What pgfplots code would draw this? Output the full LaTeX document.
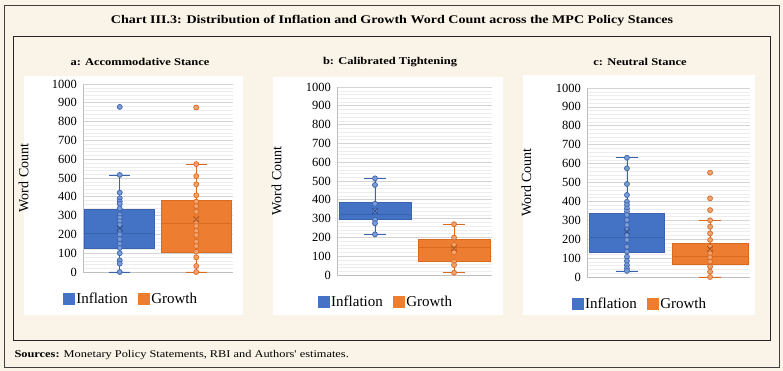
\documentclass[border=0pt]{standalone}
\usepackage{fontspec}
\setmainfont{Liberation Serif}
\newfontfamily\hdfont[FakeStretch=1.2]{Liberation Serif}
\usepackage{pgfplots}
\pgfplotsset{compat=1.18}
\usepgfplotslibrary{statistics}
\definecolor{bgc}{HTML}{FAF3E7}
\definecolor{inflc}{HTML}{4472C4}
\definecolor{inflD}{HTML}{3A63AD}
\definecolor{growc}{HTML}{ED7D31}
\definecolor{growD}{HTML}{D96A22}
\pgfplotsset{
  panel/.style={
    scale only axis, clip=false,
    xmin=0, xmax=2, ymin=0, ymax=1000,
    ytick={0,100,...,1000}, minor y tick num=4,
    xtick=\empty,
    ymajorgrids, yminorgrids,
    major grid style={draw=black!17, line width=0.6pt},
    minor grid style={draw=black!7, line width=0.4pt},
    axis lines*=left,
    axis line style={draw=black!25, line width=0.6pt},
    tick style={draw=none},
    /pgf/number format/assume math mode=true,
    /pgf/number format/1000 sep={},
    yticklabel style={font=\fontsize{12.5}{12.5}\selectfont, xshift=-2.5pt},
    ylabel={Word Count},
    ylabel style={font=\fontsize{14}{14}\selectfont},
    boxplot/draw direction=y,
    legend style={draw=none, fill=none, font=\fontsize{15}{15}\selectfont,
      legend columns=2, anchor=center,
      /tikz/every even column/.append style={column sep=8pt}},
  },
  ib/.style={boxplot prepared={draw position=0.49, box extend=0.93, whisker extend=0.28, #1},
    fill=inflc, draw=inflD, line width=0.8pt},
  gb/.style={boxplot prepared={draw position=1.51, box extend=0.93, whisker extend=0.28, #1},
    fill=growc, draw=growD, line width=0.8pt},
  ip/.style={only marks, mark=*, mark size=2.5pt, mark options={draw=inflD, fill=inflc!70!white, line width=0.7pt}},
  gp/.style={only marks, mark=*, mark size=2.5pt, mark options={draw=growD, fill=growc!70!white, line width=0.7pt}},
  im/.style={only marks, mark=x, mark size=4pt, mark options={draw=inflD!80!black, line width=0.9pt}},
  gm/.style={only marks, mark=x, mark size=4pt, mark options={draw=growD!80!black, line width=0.9pt}},
}
\newcommand{\legsq}[1]{\addlegendimage{legend image code/.code={\fill[#1] (0pt,-5.5pt) rectangle (11pt,5.5pt);}}}
\begin{document}
\begin{tikzpicture}
\fill[bgc] (0pt,0pt) rectangle (783pt,371pt);
\draw[black!75, line width=0.8pt] (4pt,4pt) rectangle (779pt,366pt);
\draw[black!85, line width=0.9pt] (13pt,31pt) rectangle (770pt,335pt);
\node[font=\hdfont\bfseries\fontsize{11.7}{12}\selectfont] at (392pt,350pt) {Chart III.3: Distribution of Inflation and Growth Word Count across the MPC Policy Stances};
\node[font=\hdfont\fontsize{10.3}{11}\selectfont, anchor=west] at (11pt,16pt) {\textbf{Sources:} Monetary Policy Statements, RBI and Authors' estimates.};
% panel backgrounds
\fill[white] (24pt,56pt) rectangle (243pt,295pt);
\fill[white] (273pt,56pt) rectangle (503pt,294pt);
\fill[white] (523pt,56pt) rectangle (755pt,296pt);
\node[font=\hdfont\bfseries\fontsize{10.4}{11}\selectfont] at (140pt,309pt) {a: Accommodative Stance};
\node[font=\hdfont\bfseries\fontsize{10.4}{11}\selectfont] at (390pt,309pt) {b: Calibrated Tightening};
\node[font=\hdfont\bfseries\fontsize{10.4}{11}\selectfont] at (640pt,309pt) {c: Neutral Stance};

% ---------- Panel a
\begin{axis}[panel, at={(83pt,99pt)}, anchor=south west, width=150pt, height=188pt,
  ylabel style={at={(rel axis cs:-0.34,0.5)}},
  legend style={at={(rel axis cs:0.32,-0.144)}}]
\legsq{inflc}\addlegendentry{Inflation}
\legsq{growc}\addlegendentry{Growth}
\addplot[ib={lower whisker=0, lower quartile=126, median=206, upper quartile=335, upper whisker=516}] coordinates {};
\addplot[gb={lower whisker=0, lower quartile=105, median=261, upper quartile=381, upper whisker=574}] coordinates {};
\addplot[ip] coordinates {(0.49,878) (0.49,516) (0.49,422) (0.49,392) (0.49,375) (0.49,362) (0.49,338) (0.49,305) (0.49,290) (0.49,270) (0.49,250) (0.49,225) (0.49,200) (0.49,175) (0.49,150) (0.49,128) (0.49,100) (0.49,62) (0.49,45) (0.49,0)};
\addplot[gp] coordinates {(1.51,875) (1.51,574) (1.51,510) (1.51,466) (1.51,408) (1.51,374) (1.51,351) (1.51,321) (1.51,280) (1.51,259) (1.51,245) (1.51,218) (1.51,197) (1.51,161) (1.51,138) (1.51,108) (1.51,78) (1.51,32) (1.51,0)};
\addplot[im] coordinates {(0.49,232)};
\addplot[gm] coordinates {(1.51,280)};
\end{axis}

% ---------- Panel b
\begin{axis}[panel, at={(337pt,96pt)}, anchor=south west, width=155pt, height=188pt,
  ylabel style={at={(rel axis cs:-0.335,0.5)}},
  legend style={at={(rel axis cs:0.316,-0.144)}}]
\legsq{inflc}\addlegendentry{Inflation}
\legsq{growc}\addlegendentry{Growth}
\addplot[ib={lower whisker=216, lower quartile=296, median=324, upper quartile=387, upper whisker=514}] coordinates {};
\addplot[gb={lower whisker=12, lower quartile=74, median=147, upper quartile=190, upper whisker=270}] coordinates {};
\addplot[ip] coordinates {(0.49,514) (0.49,479) (0.49,379) (0.49,340) (0.49,293) (0.49,275) (0.49,216)};
\addplot[gp] coordinates {(1.51,270) (1.51,199) (1.51,160) (1.51,137) (1.51,120) (1.51,71) (1.51,53) (1.51,12)};
\addplot[im] coordinates {(0.49,340)};
\addplot[gm] coordinates {(1.51,142)};
\end{axis}

% ---------- Panel c
\begin{axis}[panel, at={(587pt,94pt)}, anchor=south west, width=163pt, height=189pt,
  ylabel style={at={(rel axis cs:-0.32,0.5)}},
  legend style={at={(rel axis cs:0.325,-0.143)}}]
\legsq{inflc}\addlegendentry{Inflation}
\legsq{growc}\addlegendentry{Growth}
\addplot[ib={lower whisker=32, lower quartile=129, median=210, upper quartile=337, upper whisker=631}] coordinates {};
\addplot[gb={lower whisker=0, lower quartile=67, median=110, upper quartile=178, upper whisker=300}] coordinates {};
\addplot[ip] coordinates {(0.49,631) (0.49,575) (0.49,492) (0.49,434) (0.49,398) (0.49,381) (0.49,363) (0.49,346) (0.49,328) (0.49,302) (0.49,275) (0.49,249) (0.49,222) (0.49,196) (0.49,160) (0.49,134) (0.49,107) (0.49,85) (0.49,63) (0.49,46) (0.49,32)};
\addplot[gp] coordinates {(1.51,552) (1.51,416) (1.51,354) (1.51,300) (1.51,266) (1.51,231) (1.51,196) (1.51,160) (1.51,143) (1.51,125) (1.51,104) (1.51,81) (1.51,55) (1.51,28) (1.51,0)};
\addplot[im] coordinates {(0.49,240)};
\addplot[gm] coordinates {(1.51,148)};
\end{axis}
\pgfresetboundingbox
\path[use as bounding box] (0pt,0pt) rectangle (783pt,371pt);
\end{tikzpicture}
\end{document}
